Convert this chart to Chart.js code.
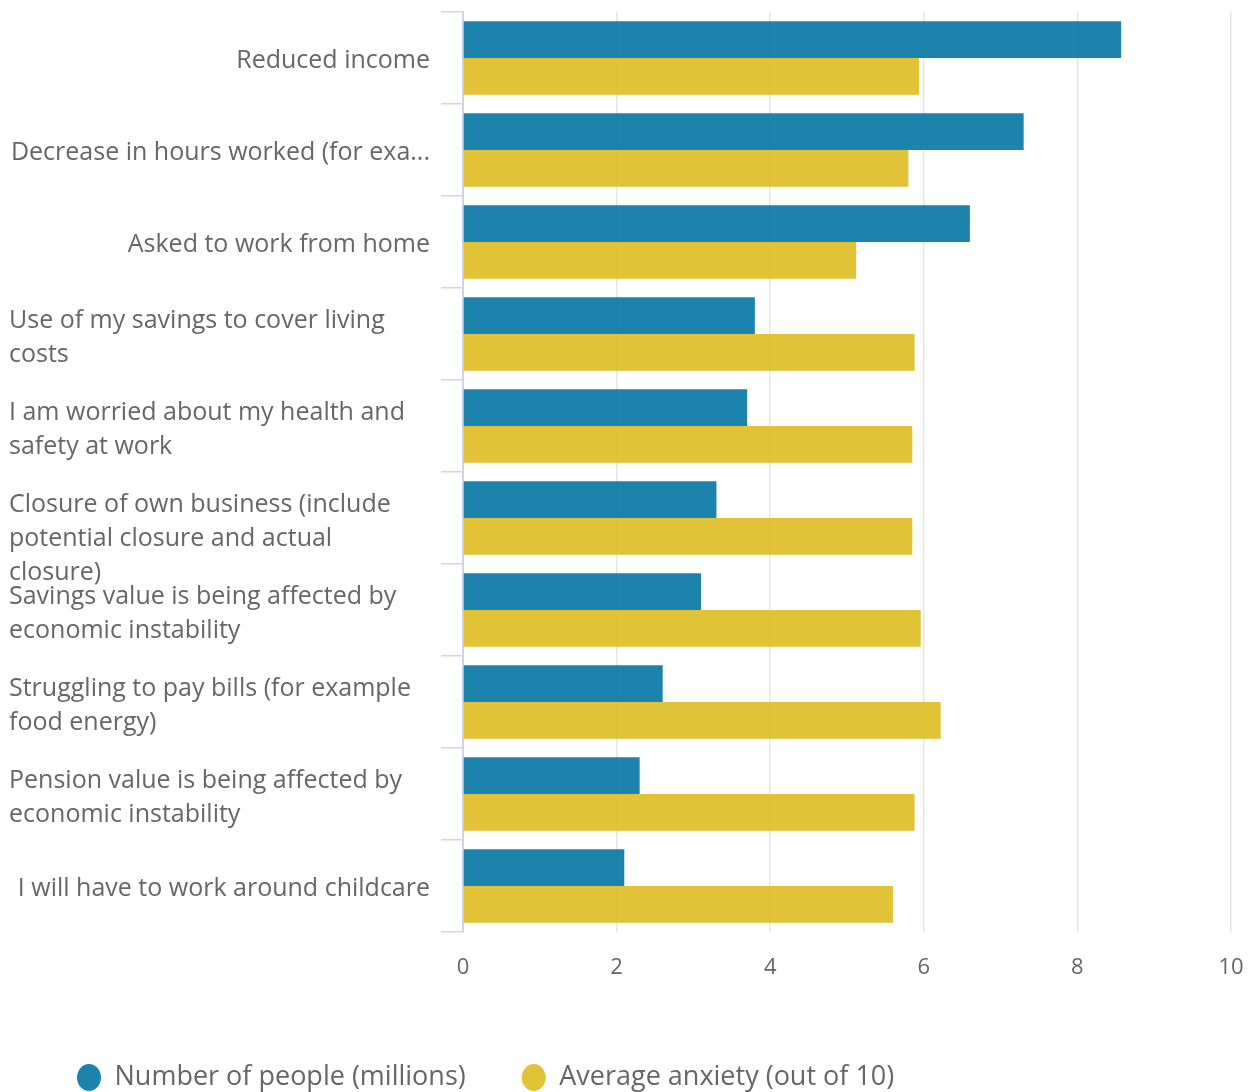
<!DOCTYPE html>
<html>
<head>
<meta charset="utf-8">
<script src="https://cdn.jsdelivr.net/npm/chart.js@4.4.0/dist/chart.umd.min.js"></script>
<style>
html, body { margin: 0; padding: 0; background: #fff; }
</style>
</head>
<body>
<canvas id="chart" width="1255" height="1092"></canvas>
<script>
// category labels, already split into the lines shown on the chart
const categories = [
  ['Reduced income'],
  ['Decrease in hours worked (for exa...'],
  ['Asked to work from home'],
  ['Use of my savings to cover living', 'costs'],
  ['I am worried about my health and', 'safety at work'],
  ['Closure of own business (include', 'potential closure and actual', 'closure)'],
  ['Savings value is being affected by', 'economic instability'],
  ['Struggling to pay bills (for example', 'food energy)'],
  ['Pension value is being affected by', 'economic instability'],
  ['I will have to work around childcare']
];
const people = [8.57, 7.3, 6.6, 3.8, 3.7, 3.3, 3.1, 2.6, 2.3, 2.1];
const anxiety = [5.94, 5.8, 5.12, 5.88, 5.85, 5.85, 5.96, 6.22, 5.88, 5.6];
const seriesNames = ['Number of people (millions)', 'Average anxiety (out of 10)'];
const xMin = 0, xMax = 10, xStep = 2;

const textColor = '#666666';
const font = '"Open Sans", sans-serif';

// draws the category labels: one-liners right aligned, wrapped ones left aligned
const catLabels = {
  id: 'catLabels',
  afterDraw(chart) {
    const ctx = chart.ctx;
    const y = chart.scales.y;
    ctx.save();
    ctx.font = '25px ' + font;
    ctx.fillStyle = textColor;
    ctx.textBaseline = 'middle';
    categories.forEach((lines, i) => {
      const cy = y.getPixelForValue(i);
      if (lines.length === 1) {
        ctx.textAlign = 'right';
        ctx.fillText(lines[0], y.right - 33, cy + 3);
      } else {
        ctx.textAlign = 'left';
        lines.forEach((t, j) => ctx.fillText(t, 9, cy - 13 + j * 34));
      }
    });
    ctx.restore();
  }
};

// fixed legend height so the gap above it stays wide
const legendHeight = {
  id: 'legendHeight',
  beforeInit(chart) {
    const fit = chart.legend.fit;
    chart.legend.fit = function () {
      fit.bind(chart.legend)();
      this.height = 84;
    };
  }
};

new Chart(document.getElementById('chart'), {
  type: 'bar',
  data: {
    labels: categories.map(l => l.join(' ')),
    datasets: [{
      label: seriesNames[0],
      data: people,
      backgroundColor: 'rgba(2,118,163,0.9)',
      borderWidth: 0
    }, {
      label: seriesNames[1],
      data: anxiety,
      backgroundColor: 'rgba(223,187,32,0.9)',
      borderWidth: 0
    }]
  },
  options: {
    indexAxis: 'y',
    responsive: false,
    animation: false,
    categoryPercentage: 0.8,
    barPercentage: 1.0,
    layout: { padding: { top: 12, right: 24, left: 21, bottom: 0 } },
    scales: {
      x: {
        min: xMin,
        max: xMax,
        ticks: { stepSize: xStep, color: textColor, font: { family: font, size: 22 }, padding: 23 },
        grid: {
          color: c => c.tick && c.tick.value === 0 ? 'rgba(0,0,0,0)' : '#e6e6e6',
          lineWidth: 1.5,
          drawTicks: false
        },
        border: { display: false },
        afterFit(scale) {
          scale.height = 76;
          scale.paddingLeft = 0;
          scale.paddingRight = 0;
        }
      },
      y: {
        ticks: { display: false },
        grid: {
          offset: true,
          drawOnChartArea: false,
          drawTicks: true,
          tickLength: 22,
          color: '#ccd6eb',
          lineWidth: 1.5
        },
        border: { color: '#ccd6eb', width: 2 },
        afterFit(scale) { scale.width = 442; }
      }
    },
    plugins: {
      legend: {
        position: 'bottom',
        align: 'start',
        labels: {
          usePointStyle: true,
          pointStyle: 'circle',
          pointStyleWidth: 24,
          boxHeight: 19,
          padding: 56,
          color: textColor,
          font: { family: font, size: 27 }
        }
      },
      tooltip: { enabled: false }
    }
  },
  plugins: [catLabels, legendHeight]
});
</script>
</body>
</html>
